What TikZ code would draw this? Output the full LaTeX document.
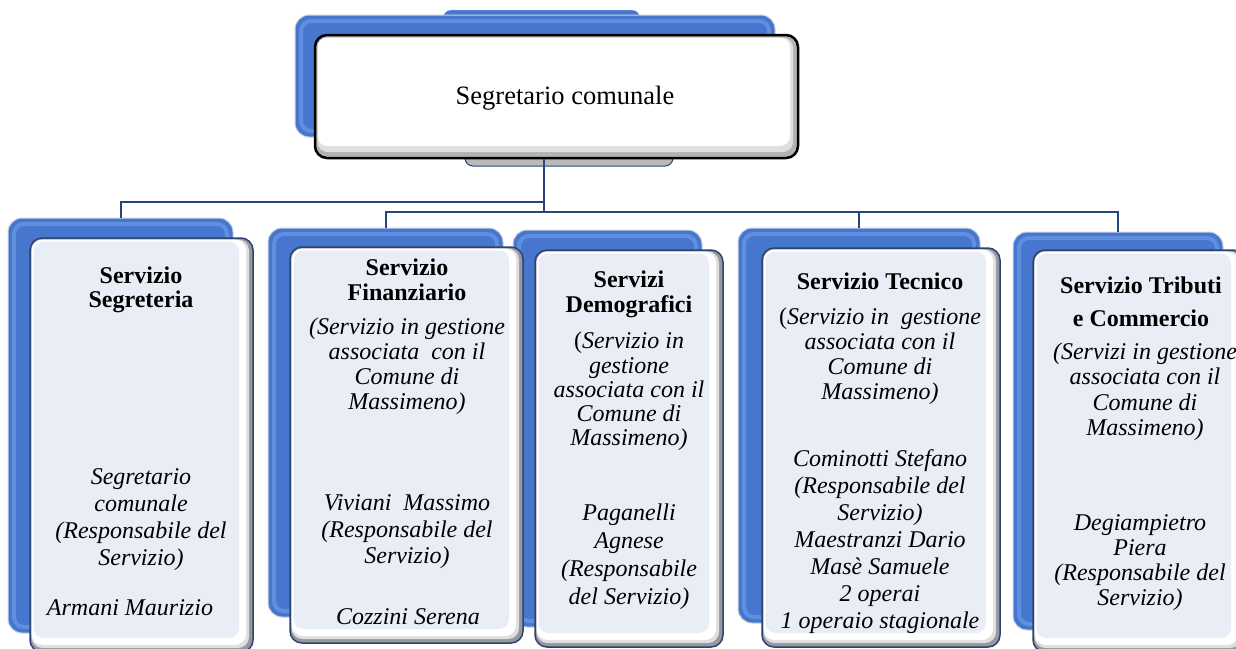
\documentclass[tikz,border=0pt]{standalone}
\usepackage{fontspec}
\setmainfont{Liberation Serif}
\definecolor{conncol}{RGB}{40,70,125}
\definecolor{bluefill}{RGB}{70,118,206}
\definecolor{bluehl}{RGB}{120,165,240}
\definecolor{blueout}{RGB}{205,212,225}
\definecolor{frontfill}{RGB}{233,237,246}
\definecolor{frontedge}{RGB}{45,68,110}
\definecolor{frontshade}{RGB}{150,152,160}
\newcommand\BackBox[5]{%
  \node[blueback, minimum width={#4-#2}, minimum height={#5-#3}] (#1) at ({(#2+#4)/2},{(#3+#5)/2}) {};
  \draw[bluebevel] (#2+6,#3+6) rectangle (#4-6,#5-6);
}
\newcommand\FrontBox[5]{%
  \path[fill=frontshade, draw=frontedge, line width=1.5pt, rounded corners=12pt] (#2,#3) rectangle (#4,#5);
  \path[fill=gray!25, rounded corners=11pt] (#2+1.5,#3+1.5) rectangle (#4-4,#5-4);
  \path[fill=white, rounded corners=11pt] (#2+1.5,#3+1.5) rectangle (#4-7,#5-7);
  \path[fill=frontfill, rounded corners=10pt] (#2+3.5,#3+3.5) rectangle (#4-14,#5-14);
  \coordinate (#1) at ({(#2+#4)/2},{(#3+#5)/2});
}
\begin{document}
\begin{tikzpicture}[x=1pt,y=-1pt,
  conn/.style={draw=conncol, line width=2pt},
  blueback/.style={rectangle, fill=bluefill, draw=blueout, line width=1pt, rounded corners=14pt, inner sep=0pt},
  bluebevel/.style={draw=bluehl, line width=4pt, opacity=0.55, rounded corners=10pt},
  hdr/.style={font=\fontsize{24}{#1}\selectfont\bfseries, align=center, inner sep=0pt},
  hdr/.default=23,
  bod/.style={font=\fontsize{24}{#1}\selectfont\itshape, align=center, inner sep=0pt},
  bod/.default=25]
\useasboundingbox[fill=white] (0,0) rectangle (1236,648);

% top box
\path[fill=bluefill, draw=blueout, rounded corners=8pt] (443,10) rectangle (640,40);
\path[fill=gray!55, draw=conncol, line width=1pt, rounded corners=8pt] (465,130) rectangle (673,166);
\BackBox{topback}{295}{15}{775}{137}
\node[draw=black, line width=2.5pt, fill=gray!60, rounded corners=12pt, minimum width=483, minimum height=123, inner sep=0pt] (top) at (556.5,96.5) {};
\fill[gray!25, rounded corners=10pt] (317.5,37.5) rectangle (793,152);
\fill[white, rounded corners=10pt] (317.5,37.5) rectangle (790,146);
\node[font=\fontsize{26.5}{28}\selectfont, inner sep=0pt] (toptext) at (565,99) {\strut Segretario comunale};

% back boxes
\BackBox{b1}{8}{218}{233}{633}
\BackBox{b2}{268}{228}{503}{617}
\BackBox{b3}{513}{230}{702}{627}
\BackBox{b4}{738}{228}{980}{623}
\BackBox{b5}{1013}{232}{1223}{630}

% front boxes
\FrontBox{f1}{30}{238}{253}{652}
\FrontBox{f2}{290}{247}{523}{643}
\FrontBox{f3}{535}{250}{723}{647}
\FrontBox{f4}{762}{248}{1000}{647}
\FrontBox{f5}{1033}{250}{1245}{652}

% connectors
\coordinate (hubA) at (544,202);
\coordinate (hub) at (544,212);
\draw[conn] (top.south -| hub) -- (hub);
\draw[conn] (hubA) -| (b1.north);
\draw[conn] (hub) -| (b2.north);
\draw[conn] (hub) -| (b4.north);
\draw[conn] (hub) -| (b5.north);

% column 1
\node[hdr=23] (h1) at (141,290.5) {\strut Servizio\\\strut Segreteria};
\node[bod=27] (p1) at (141,520) {\strut Segretario\\\strut comunale\\\strut (Responsabile del\\\strut Servizio)};
\node[bod] (q1) at (130,610) {\strut Armani Maurizio};

% column 2
\node[hdr=22] (h2) at (407,283) {\strut Servizio\\\strut Finanziario};
\node[bod=25] (d2) at (407,367) {\strut (Servizio in gestione\\\strut associata\ \ con il\\\strut Comune di\\\strut Massimeno)};
\node[bod=26.5] (p2) at (407,532) {\strut Viviani\ \ Massimo\\\strut (Responsabile del\\\strut Servizio)};
\node[bod] (q2) at (408,619) {\strut Cozzini Serena};

% column 3
\node[hdr=23] (h3) at (629,295.5) {\strut Servizi\\\strut Demografici};
\node[bod=24.3] (d3) at (629,392.5) {\strut {\upshape(}Servizio in\\\strut gestione\\\strut associata con il\\\strut Comune di\\\strut Massimeno)};
\node[bod=28] (p3) at (629,557) {\strut Paganelli\\\strut Agnese\\\strut (Responsabile\\\strut del Servizio)};

% column 4
\node[hdr] (h4) at (880,285) {\strut Servizio Tecnico};
\node[bod=25] (d4) at (880,356.5) {\strut {\upshape(}Servizio in\ \ gestione\\\strut associata con il\\\strut Comune di\\\strut Massimeno)};
\node[bod=27] (p4) at (880,542.5) {\strut Cominotti Stefano\\\strut (Responsabile del\\\strut Servizio)\\\strut Maestranzi Dario\\\strut Masè Samuele\\\strut 2 operai\\\strut 1 operaio stagionale};

% column 5
\node[hdr=33] (h5) at (1141,303.5) {\strut Servizio Tributi\\\strut e Commercio};
\node[bod=25.3] (d5) at (1145,392.5) {\strut (Servizi in gestione\\\strut associata con il\\\strut Comune di\\\strut Massimeno)};
\node[bod=25] (p5) at (1140,563) {\strut Degiampietro\\\strut Piera\\\strut (Responsabile del\\\strut Servizio)};
\end{tikzpicture}
\end{document}
